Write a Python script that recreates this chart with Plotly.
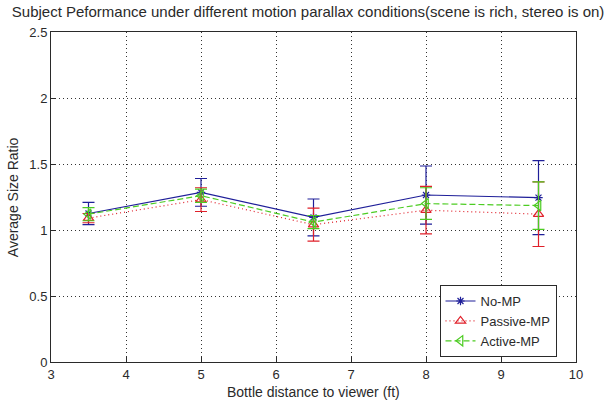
import plotly.graph_objects as go

distance = [3.5, 5, 6.5, 8, 9.5]

no_mp = [1.125, 1.285, 1.095, 1.265, 1.245]
no_mp_err = [0.085, 0.105, 0.14, 0.22, 0.28]

passive_mp = [1.09, 1.23, 1.04, 1.15, 1.12]
passive_mp_err = [0.035, 0.09, 0.125, 0.18, 0.245]

active_mp = [1.12, 1.26, 1.06, 1.20, 1.185]
active_mp_err = [0.05, 0.05, 0.05, 0.12, 0.18]

x_ticks = [3, 4, 5, 6, 7, 8, 9, 10]
y_ticks = [0, 0.5, 1, 1.5, 2, 2.5]
y_tick_labels = ["0", "0.5", "1", "1.5", "2", "2.5"]

BLUE = "#1f1f99"
RED = "#e0202a"
GREEN = "#4ccc22"
TXT = "#2a2a2a"
FONT = "Liberation Sans, Arial"

fig = go.Figure()

def add(name, y, err, color, dash, symbol, msize):
    fig.add_trace(go.Scatter(
        x=distance, y=y, name=name, mode="lines+markers",
        line=dict(color=color, width=1.2, dash=dash),
        marker=dict(symbol=symbol, size=msize, color=color,
                    line=dict(color=color, width=1.2)),
        error_y=dict(type="data", array=err, visible=True,
                     color=color, thickness=1.2, width=6),
    ))

add("No-MP", no_mp, no_mp_err, BLUE, "solid", "asterisk-open", 7)
add("Passive-MP", passive_mp, passive_mp_err, RED, "1px,3px", "triangle-up-open", 9)
add("Active-MP", active_mp, active_mp_err, GREEN, "6px,3px", "triangle-left-open", 9)

axis_common = dict(
    showline=True, linecolor=TXT, linewidth=1, mirror=True,
    ticks="inside", ticklen=5, tickcolor=TXT,
    showgrid=True, gridcolor="#333", griddash="1px,3px", gridwidth=1,
    zeroline=False,
    tickfont=dict(family=FONT, size=13, color=TXT),
)

fig.update_layout(
    width=610, height=401,
    margin=dict(l=51, r=34, t=32, b=39),
    paper_bgcolor="white", plot_bgcolor="white",
    title=dict(
        text="Subject Peformance under different motion parallax conditions(scene is rich, stereo is on)",
        x=0.505, xanchor="center", y=0.97, yanchor="middle",
        font=dict(family=FONT, size=15, color=TXT),
    ),
    xaxis=dict(range=[3, 10], tickvals=x_ticks, **axis_common),
    yaxis=dict(range=[0, 2.5], tickvals=y_ticks, ticktext=y_tick_labels, **axis_common),
    annotations=[
        dict(text="Bottle distance to viewer (ft)", xref="paper", yref="paper",
             x=0.5, y=-0.09, xanchor="center", yanchor="middle", showarrow=False,
             font=dict(family=FONT, size=14, color=TXT)),
        dict(text="Average Size Ratio", xref="paper", yref="paper",
             x=-0.072, y=0.5, xanchor="center", yanchor="middle", showarrow=False,
             textangle=-90, font=dict(family=FONT, size=14, color=TXT)),
    ],
    legend=dict(
        x=0.74, y=0.015, xanchor="left", yanchor="bottom",
        bgcolor="white", bordercolor=TXT, borderwidth=1,
        font=dict(family=FONT, size=13, color=TXT),
        tracegroupgap=0, itemwidth=30,
    ),
    showlegend=True,
)

fig.write_html("out.html", config={"displayModeBar": False},
               post_script="document.body.style.margin='0';document.body.style.overflow='hidden';")
